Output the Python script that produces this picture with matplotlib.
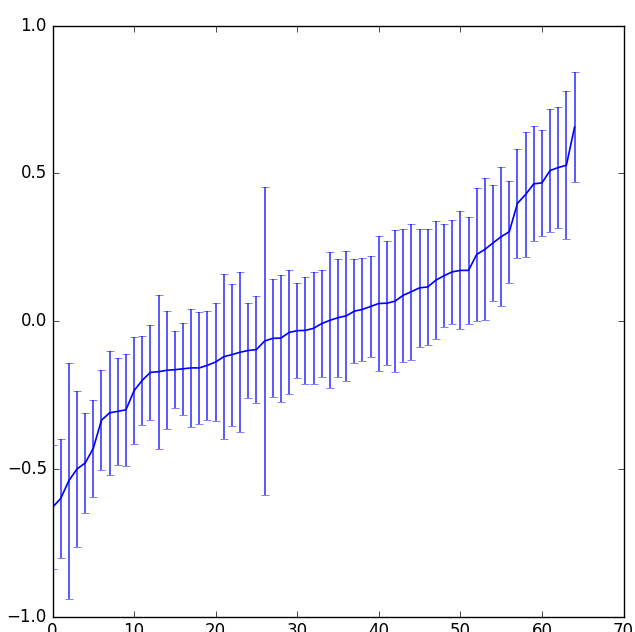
import matplotlib

matplotlib.use("Agg")

import matplotlib.pyplot as plt  # noqa: E402
import numpy as np  # noqa: E402

# sorted estimates with their standard errors
means = [
    -0.63, -0.60, -0.54, -0.50, -0.48, -0.43, -0.335, -0.31, -0.305, -0.30,
    -0.235, -0.20, -0.173, -0.171, -0.166, -0.164, -0.161, -0.158, -0.158, -0.149,
    -0.138, -0.120, -0.113, -0.105, -0.099, -0.096, -0.067, -0.058, -0.057, -0.038,
    -0.032, -0.031, -0.024, -0.008, 0.003, 0.012, 0.018, 0.034, 0.040, 0.050,
    0.060, 0.061, 0.068, 0.088, 0.100, 0.113, 0.116, 0.139, 0.154, 0.167,
    0.172, 0.172, 0.226, 0.243, 0.265, 0.286, 0.303, 0.399, 0.429, 0.465,
    0.468, 0.510, 0.520, 0.528, 0.657,
]
errors = [
    0.21, 0.20, 0.40, 0.265, 0.17, 0.165, 0.17, 0.21, 0.18, 0.19,
    0.18, 0.15, 0.16, 0.26, 0.20, 0.13, 0.155, 0.20, 0.19, 0.185,
    0.20, 0.28, 0.24, 0.27, 0.16, 0.18, 0.52, 0.20, 0.215, 0.21,
    0.16, 0.18, 0.19, 0.18, 0.23, 0.20, 0.22, 0.175, 0.175, 0.17,
    0.23, 0.21, 0.24, 0.225, 0.23, 0.20, 0.195, 0.20, 0.175, 0.175,
    0.20, 0.18, 0.226, 0.24, 0.195, 0.235, 0.172, 0.185, 0.21, 0.195,
    0.18, 0.208, 0.205, 0.25, 0.185,
]

plt.style.use("classic")

fig = plt.figure(figsize=(6.35, 6.32), dpi=100)
ax = fig.add_axes([0.0827, 0.0242, 0.8992, 0.9351])

xs = np.arange(len(means))
line, caps, bars = ax.errorbar(xs, means, yerr=errors, fmt="b-", ecolor="b",
                               elinewidth=1.3, capsize=3, linewidth=1.2)
# lighter whiskers so the mean curve stands out
for art in list(caps) + list(bars):
    art.set_alpha(0.7)

ax.set_xlim(0, 70)
ax.set_ylim(-1.0, 1.0)
ax.set_yticks([-1.0, -0.5, 0.0, 0.5, 1.0])

fig.savefig("out.png", dpi=100)
plt.close(fig)
